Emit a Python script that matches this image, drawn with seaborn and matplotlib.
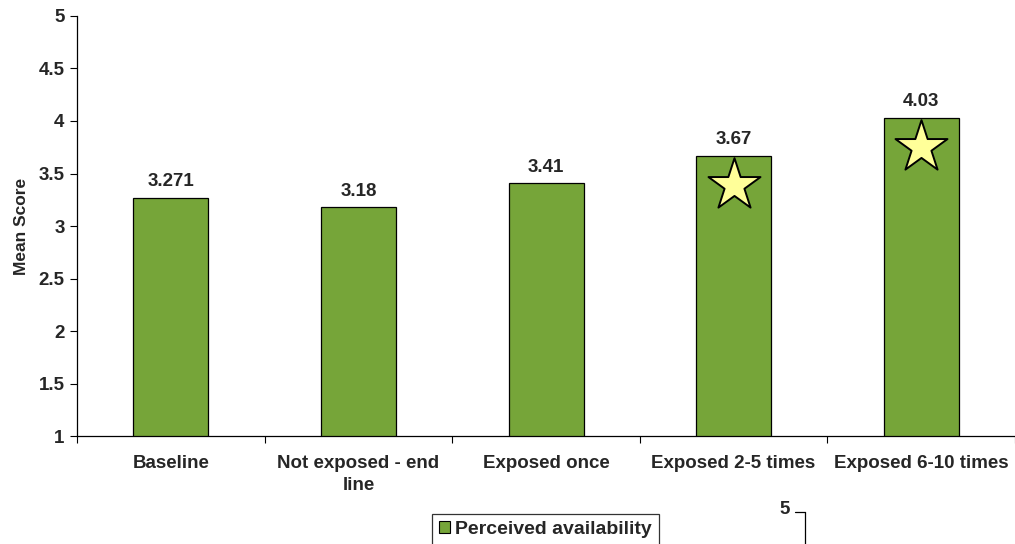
import matplotlib
matplotlib.use("Agg")
import matplotlib.pyplot as plt
from matplotlib.lines import Line2D
import seaborn as sns
import pandas as pd

categories = ["Baseline", "Not exposed - end\nline", "Exposed once",
              "Exposed 2-5 times", "Exposed 6-10 times"]
values = [3.271, 3.18, 3.41, 3.67, 4.03]
value_labels = ["3.271", "3.18", "3.41", "3.67", "4.03"]
starred = [False, False, False, True, True]
series_name = "Perceived availability"
y_ticks = [1, 1.5, 2, 2.5, 3, 3.5, 4, 4.5, 5]
y_tick_labels = ["1", "1.5", "2", "2.5", "3", "3.5", "4", "4.5", "5"]

sns.set_style("white")
plt.rcParams["font.family"] = ["Liberation Sans", "DejaVu Sans"]
plt.rcParams["font.weight"] = "bold"

bar_green = "#76A539"
star_yellow = "#FFFF99"
fs = 13.5

df = pd.DataFrame({"category": categories, "value": values})

fig = plt.figure(figsize=(10.15, 5.44), dpi=100)
ax = fig.add_axes([0.0759, 0.1985, 0.9241, 0.7721])

sns.barplot(data=df, x="category", y="value", color=bar_green, width=0.4,
            edgecolor="black", linewidth=0.9, saturation=1, ax=ax)

ax.set_ylim(1, 5)
ax.set_xlim(-0.5, len(categories) - 0.5)
ax.set_yticks(y_ticks)
ax.set_yticklabels(y_tick_labels, fontsize=fs, fontweight="bold")

# category labels at bar centres, tick marks at category boundaries
ax.set_xticks([i - 0.5 for i in range(len(categories) + 1)])
ax.set_xticklabels([])
ax.set_xticks(range(len(categories)), minor=True)
ax.set_xticklabels(categories, minor=True, fontsize=fs, fontweight="bold",
                   linespacing=1.35)
ax.tick_params(axis="x", which="major", direction="out", length=5, width=0.8,
               color="black", bottom=True)
ax.tick_params(axis="x", which="minor", length=0, pad=14)
ax.tick_params(axis="y", direction="out", length=5, width=0.8, color="black",
               left=True, pad=4)

ax.set_xlabel("")
ax.set_ylabel("Mean Score", fontsize=12.5, fontweight="bold", labelpad=7)

for side in ("top", "right"):
    ax.spines[side].set_visible(False)
for side in ("left", "bottom"):
    ax.spines[side].set_color("black")
    ax.spines[side].set_linewidth(0.9)

for i, (v, lab) in enumerate(zip(values, value_labels)):
    ax.text(i, v + 0.07, lab, ha="center", va="bottom", fontsize=fs,
            fontweight="bold")

star_x = [i for i, s in enumerate(starred) if s]
star_y = [values[i] - 0.28 for i in star_x]
ax.scatter(star_x, star_y, marker="*", s=1550, facecolor=star_yellow,
           edgecolor="black", linewidth=1.4, zorder=5)

handle = plt.Rectangle((0, 0), 1, 1, facecolor=bar_green, edgecolor="black",
                       linewidth=0.8)
leg = fig.legend([handle], [series_name], loc="upper left",
                 bbox_to_anchor=(432 / 1015, 1 - 514 / 544),
                 frameon=True, fancybox=False, edgecolor="black",
                 prop={"weight": "bold", "size": 14}, handlelength=0.6,
                 handleheight=0.6, handletextpad=0.25, borderpad=0.35,
                 borderaxespad=0)
leg.get_frame().set_linewidth(0.9)

# edge of the neighbouring panel
fig.text(785 / 1015, 1 - 509 / 544, "5", ha="center", va="center",
         fontsize=fs, fontweight="bold")
fig.add_artist(Line2D([795 / 1015, 805 / 1015], [1 - 512 / 544, 1 - 512 / 544],
                      color="black", linewidth=0.9))
fig.add_artist(Line2D([805 / 1015, 805 / 1015], [1 - 512 / 544, 0],
                      color="black", linewidth=0.9))

fig.savefig("out.png", dpi=100)
